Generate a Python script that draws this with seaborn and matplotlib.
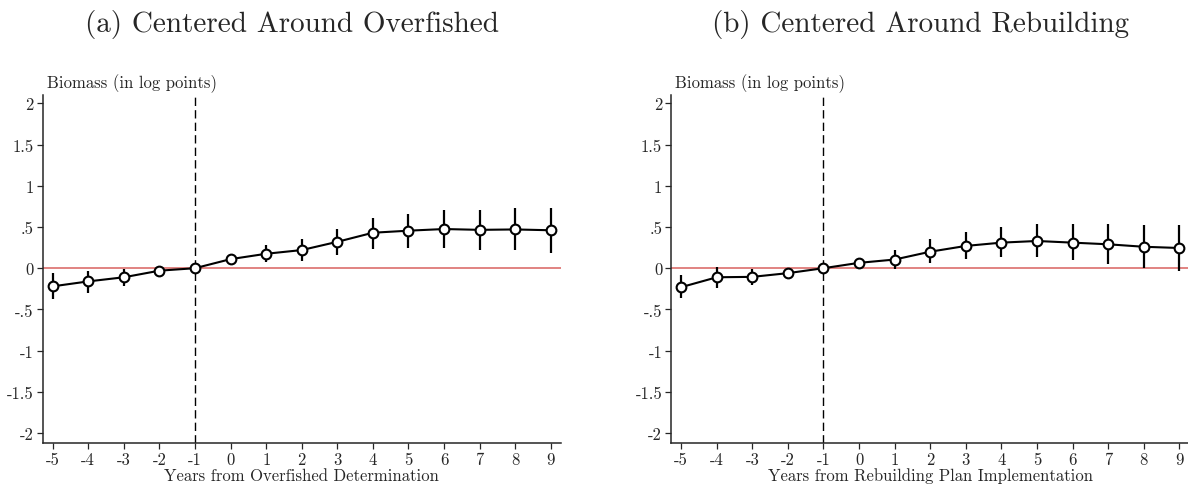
import matplotlib
matplotlib.use("Agg")
import matplotlib.pyplot as plt
import numpy as np
import pandas as pd
import seaborn as sns

years = [-5, -4, -3, -2, -1, 0, 1, 2, 3, 4, 5, 6, 7, 8, 9]

# panel (a): centered around overfished determination
coef_a = [-0.22, -0.16, -0.11, -0.03, 0.0, 0.11, 0.175, 0.22, 0.32, 0.43, 0.455, 0.475, 0.465, 0.47, 0.46]
lo_a = [-0.37, -0.30, -0.21, -0.11, 0.0, 0.05, 0.07, 0.09, 0.155, 0.235, 0.245, 0.245, 0.215, 0.22, 0.19]
hi_a = [-0.06, -0.03, -0.01, 0.03, 0.0, 0.155, 0.28, 0.36, 0.475, 0.605, 0.66, 0.70, 0.71, 0.725, 0.73]

# panel (b): centered around rebuilding plan
coef_b = [-0.23, -0.11, -0.105, -0.06, 0.0, 0.065, 0.105, 0.20, 0.27, 0.31, 0.33, 0.31, 0.29, 0.26, 0.245]
lo_b = [-0.365, -0.235, -0.20, -0.09, 0.0, 0.03, -0.01, 0.06, 0.115, 0.13, 0.13, 0.095, 0.05, 0.0, -0.03]
hi_b = [-0.085, 0.01, -0.01, -0.03, 0.0, 0.10, 0.22, 0.35, 0.435, 0.495, 0.53, 0.53, 0.54, 0.52, 0.525]

ytick_vals = [-2, -1.5, -1, -0.5, 0, 0.5, 1, 1.5, 2]
ytick_labs = ["-2", "-1.5", "-1", "-.5", "0", ".5", "1", "1.5", "2"]

titles = ["(a) Centered Around Overfished", "(b) Centered Around Rebuilding"]
xlabels = ["Years from Overfished Determination", "Years from Rebuilding Plan Implementation"]

sns.set_style("ticks")
plt.rcParams["font.family"] = ["cmr10", "DejaVu Serif"]
plt.rcParams["axes.formatter.use_mathtext"] = True

fig = plt.figure(figsize=(11.88, 4.85), dpi=100)
ax_a = fig.add_axes([0.036, 0.0845, 0.436, 0.7175])
ax_b = fig.add_axes([0.565, 0.0845, 0.436, 0.7175])

panels = [(ax_a, coef_a, lo_a, hi_a), (ax_b, coef_b, lo_b, hi_b)]
for i, (ax, coef, lo, hi) in enumerate(panels):
    df = pd.DataFrame({"year": years, "coef": coef, "lo": lo, "hi": hi})
    ax.axhline(0, color="#d9625f", lw=1.1, zorder=1)
    ax.axvline(-1, color="black", lw=1.0, dashes=(6, 3), zorder=1)
    ax.vlines(df["year"], df["lo"], df["hi"], color="black", lw=1.6, zorder=2)
    sns.lineplot(data=df, x="year", y="coef", ax=ax, color="black", lw=1.5,
                 marker="o", markersize=7, markerfacecolor="white",
                 markeredgecolor="black", markeredgewidth=1.5, zorder=3)
    ax.set_xlim(-5.28, 9.28)
    ax.set_ylim(-2.12, 2.1)
    ax.set_xticks(years)
    ax.set_xticklabels([str(y) for y in years], fontsize=12)
    ax.set_yticks(ytick_vals)
    ax.set_yticklabels(ytick_labs, fontsize=12)
    ax.tick_params(direction="out", length=4, width=0.9, pad=2.5)
    ax.set_xlabel(xlabels[i], fontsize=12, labelpad=0)
    ax.set_ylabel("")
    ax.text(0.008, 1.023, "Biomass (in log points)", transform=ax.transAxes,
            fontsize=12, ha="left", va="baseline")
    for s in ["left", "bottom"]:
        ax.spines[s].set_linewidth(1.1)
    sns.despine(ax=ax)

fig.text(0.2454, 0.934, titles[0], fontsize=21, ha="center", va="baseline")
fig.text(0.775, 0.934, titles[1], fontsize=21, ha="center", va="baseline")

plt.savefig("out.png", dpi=100)
